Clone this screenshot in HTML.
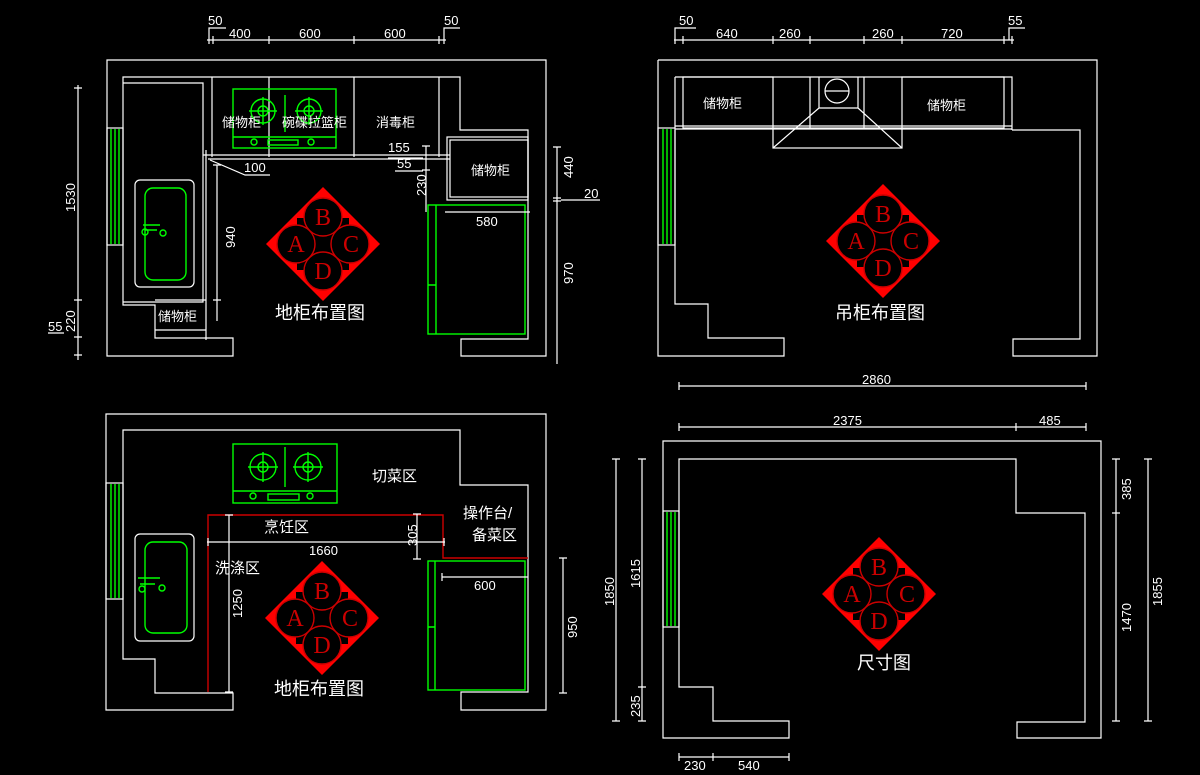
<!DOCTYPE html>
<html><head><meta charset="utf-8"><style>
html,body{margin:0;padding:0;background:#000;}
svg{display:block}
text{font-family:"Liberation Sans","Noto Sans CJK SC",sans-serif;fill:#fff;font-size:13px}
.w{stroke:#fff;stroke-width:1.2;fill:none}
.g{stroke:#0f0;stroke-width:1.4;fill:none}
.r{stroke:#c00;stroke-width:1.4;fill:none}
.t{font-size:18px}
.L{font-family:"Liberation Serif",serif;fill:#c00;font-size:24px;text-anchor:middle}
</style></head><body>
<svg width="1200" height="775" viewBox="0 0 1200 775" xmlns="http://www.w3.org/2000/svg">

<!-- ============ TOP LEFT ============ -->
<path class="w" d="M107 60 H546 V356 H461 V339 H528 V130 H460 V77 H123 V305 H155 V338 H233 V356 H107 Z"/>
<rect class="w" x="107" y="128" width="16" height="117"/>
<path class="g" d="M111 129 V244 M115 129 V244 M119 129 V244"/>
<path class="w" d="M123 83 H203 V302 H123 M155 300 H206 V330 H155 M212 77 V157 M269 77 V157 M354 77 V157 M439 77 V157 M203 155 H450 M208 159 H450 M206 150 V340"/>
<rect class="w" x="447" y="137" width="81" height="63"/>
<rect class="w" x="450" y="140" width="78" height="57"/>
<rect class="w" x="135" y="180" width="59" height="107" rx="5"/>
<rect class="g" x="145" y="188" width="41" height="92" rx="8"/>
<path class="g" d="M143 225 H160 M145 230 H157"/><circle class="g" cx="145" cy="232" r="3"/><circle class="g" cx="163" cy="233" r="3"/>
<rect class="g" x="233" y="89" width="103" height="59"/>
<path class="g" d="M233 137 H336 M285 95 V132"/>
<rect class="g" x="268" y="140" width="30" height="5"/>
<circle class="g" cx="254" cy="142" r="3"/><circle class="g" cx="311" cy="142" r="3"/>
<circle class="g" cx="263" cy="111" r="12"/><circle class="g" cx="263" cy="111" r="5"/><path class="g" d="M249 111 H277 M263 97 V125"/>
<circle class="g" cx="309" cy="111" r="12"/><circle class="g" cx="309" cy="111" r="5"/><path class="g" d="M295 111 H323 M309 97 V125"/>
<rect class="g" x="428" y="205" width="97" height="129"/>
<path class="g" d="M436 205 V334 M428 285 H436"/>
<text x="222" y="127">储物柜</text><text x="282" y="127">碗碟拉篮柜</text><text x="376" y="127">消毒柜</text>
<text x="471" y="175">储物柜</text><text x="158" y="321">储物柜</text>
<path class="w" d="M207 40 H446 M209 36 V44 M213 36 V44 M269 36 V44 M354 36 V44 M439 36 V44 M444 36 V44 M209 40 V28 H226 M444 40 V28 H460"/>
<text x="208" y="25">50</text><text x="229" y="38">400</text><text x="299" y="38">600</text><text x="384" y="38">600</text><text x="444" y="25">50</text>
<path class="w" d="M78 85 V360 M74 88 H82 M74 300 H82 M74 337 H82 M74 355 H82 M48 333 H64"/>
<text transform="translate(75 212) rotate(-90)">1530</text>
<text transform="translate(75 332) rotate(-90)">220</text>
<text x="48" y="331">55</text>
<path class="w" d="M217 165 V321 M213 165 H221 M213 300 H221 M210 160 L245 175 H270"/>
<text transform="translate(235 248) rotate(-90)">940</text><text x="244" y="172">100</text>
<path class="w" d="M426 146 V212 M422 146 H430 M422 170 H430 M388 158 H423 M395 171 H423"/>
<text x="388" y="152">155</text><text x="397" y="168">55</text>
<text transform="translate(426 196) rotate(-90)">230</text>
<path class="w" d="M557 147 V364 M553 147 H561 M553 198 H561 M553 201 H561 M561 200 H600 M445 212 H530"/>
<text transform="translate(573 178) rotate(-90)">440</text><text x="584" y="198">20</text><text transform="translate(573 284) rotate(-90)">970</text>
<text x="476" y="226">580</text>
<g transform="translate(323 244)">
<path d="M0 -57 L57 0 L0 57 L-57 0 Z" fill="#f00"/><rect x="-26" y="-26" width="52" height="52" fill="#000"/>
<circle cx="0" cy="-27" r="19" fill="#000" stroke="#c00" stroke-width="1.4"/><circle cx="27" cy="0" r="19" fill="#000" stroke="#c00" stroke-width="1.4"/>
<circle cx="0" cy="27" r="19" fill="#000" stroke="#c00" stroke-width="1.4"/><circle cx="-27" cy="0" r="19" fill="#000" stroke="#c00" stroke-width="1.4"/>
<text class="L" x="0" y="-19">B</text><text class="L" x="28" y="8">C</text><text class="L" x="0" y="35">D</text><text class="L" x="-27" y="8">A</text></g>
<text class="t" x="275" y="319">地柜布置图</text>

<!-- ============ TOP RIGHT ============ -->
<path class="w" d="M658 60 H1097 V356 H1013 V339 H1080 V130 H1012"/>
<path class="w" d="M675 130 V304 H708 V338 H784 V356 H658 V60"/>
<rect class="w" x="658" y="128" width="17" height="117"/>
<path class="g" d="M663 129 V244 M667 129 V244 M671 129 V244"/>
<path class="w" d="M675 77 H1012 V130 M675 77 V128 M675 126 H1012 M675 129 H1012"/>
<rect class="w" x="683" y="77" width="90" height="51"/><rect class="w" x="902" y="77" width="102" height="51"/>
<rect class="w" x="773" y="128" width="129" height="20"/>
<path class="w" d="M810 77 V128 M864 77 V128 M819 77 V108 H858 V77 M773 148 L819 108 M902 148 L858 108"/>
<circle class="w" cx="837" cy="91" r="12"/><path class="w" d="M825 91 H849"/>
<text x="703" y="108">储物柜</text><text x="927" y="110">储物柜</text>
<path class="w" d="M674 40 H1014 M675 36 V44 M683 36 V44 M773 36 V44 M810 36 V44 M864 36 V44 M902 36 V44 M1004 36 V44 M1012 36 V44 M675 40 V28 H696 M1009 40 V28 H1025"/>
<text x="679" y="25">50</text><text x="716" y="38">640</text><text x="779" y="38">260</text><text x="872" y="38">260</text><text x="941" y="38">720</text><text x="1008" y="25">55</text>
<g transform="translate(883 241)">
<path d="M0 -57 L57 0 L0 57 L-57 0 Z" fill="#f00"/><rect x="-26" y="-26" width="52" height="52" fill="#000"/>
<circle cx="0" cy="-27" r="19" fill="#000" stroke="#c00" stroke-width="1.4"/><circle cx="27" cy="0" r="19" fill="#000" stroke="#c00" stroke-width="1.4"/>
<circle cx="0" cy="27" r="19" fill="#000" stroke="#c00" stroke-width="1.4"/><circle cx="-27" cy="0" r="19" fill="#000" stroke="#c00" stroke-width="1.4"/>
<text class="L" x="0" y="-19">B</text><text class="L" x="28" y="8">C</text><text class="L" x="0" y="35">D</text><text class="L" x="-27" y="8">A</text></g>
<text class="t" x="835" y="319">吊柜布置图</text>

<!-- ============ BOTTOM LEFT ============ -->
<path class="w" d="M106 414 H546 V710 H461 V692 H528 V485 H460 V430 H123 V659 H155 V693 H233 V710 H106 Z"/>
<rect class="w" x="106" y="483" width="17" height="116"/>
<path class="g" d="M111 484 V598 M115 484 V598 M119 484 V598"/>
<rect class="w" x="135" y="534" width="59" height="107" rx="5"/>
<rect class="g" x="145" y="542" width="42" height="91" rx="8"/>
<path class="g" d="M138 578 H160 M140 584 H155"/><circle class="g" cx="142" cy="589" r="3"/><circle class="g" cx="162" cy="588" r="3"/>
<rect class="g" x="233" y="444" width="104" height="59"/>
<path class="g" d="M233 491 H337 M285 447 V487"/><rect class="g" x="268" y="494" width="31" height="6"/>
<circle class="g" cx="253" cy="496" r="3"/><circle class="g" cx="310" cy="496" r="3"/>
<circle class="g" cx="263" cy="467" r="13"/><circle class="g" cx="263" cy="467" r="5"/><path class="g" d="M248 467 H278 M263 452 V482"/>
<circle class="g" cx="308" cy="467" r="13"/><circle class="g" cx="308" cy="467" r="5"/><path class="g" d="M293 467 H323 M308 452 V482"/>
<rect class="g" x="428" y="561" width="97" height="129"/><path class="g" d="M435 561 V690 M428 627 H435"/>
<path class="r" d="M208 692 V515 H443 V558 H528"/>
<path class="w" d="M207 542 H445 M208 538 V546 M444 538 V546 M229 515 V692 M225 515 H233 M225 692 H233 M417 514 V559 M413 514 H421 M413 559 H421 M442 577 H528 M442 573 V581 M563 558 V693 M559 558 H567 M559 693 H567"/>
<text x="309" y="555">1660</text><text transform="translate(417 546) rotate(-90)">305</text>
<text transform="translate(242 618) rotate(-90)">1250</text><text x="474" y="590">600</text>
<text transform="translate(577 638) rotate(-90)">950</text>
<text x="372" y="481" style="font-size:15px">切菜区</text><text x="463" y="518" style="font-size:15px">操作台/</text><text x="472" y="540" style="font-size:15px">备菜区</text>
<text x="264" y="532" style="font-size:15px">烹饪区</text><text x="215" y="573" style="font-size:15px">洗涤区</text>
<g transform="translate(322 618)">
<path d="M0 -57 L57 0 L0 57 L-57 0 Z" fill="#f00"/><rect x="-26" y="-26" width="52" height="52" fill="#000"/>
<circle cx="0" cy="-27" r="19" fill="#000" stroke="#c00" stroke-width="1.4"/><circle cx="27" cy="0" r="19" fill="#000" stroke="#c00" stroke-width="1.4"/>
<circle cx="0" cy="27" r="19" fill="#000" stroke="#c00" stroke-width="1.4"/><circle cx="-27" cy="0" r="19" fill="#000" stroke="#c00" stroke-width="1.4"/>
<text class="L" x="0" y="-19">B</text><text class="L" x="28" y="8">C</text><text class="L" x="0" y="35">D</text><text class="L" x="-27" y="8">A</text></g>
<text class="t" x="274" y="695">地柜布置图</text>

<!-- ============ BOTTOM RIGHT ============ -->
<path class="w" d="M663 441 H1101 V738 H1017 V722 H1085 V513 H1016 V459 H679 V687 H713 V721 H789 V738 H663 Z"/>
<rect class="w" x="663" y="511" width="16" height="116"/>
<path class="g" d="M667 512 V626 M671 512 V626 M675 512 V626"/>
<path class="w" d="M679 386 H1086 M679 382 V390 M1086 382 V390 M679 427 H1086 M679 423 V431 M1016 423 V431 M1086 423 V431"/>
<text x="862" y="384">2860</text><text x="833" y="425">2375</text><text x="1039" y="425">485</text>
<path class="w" d="M616 459 V721 M612 459 H620 M612 721 H620 M642 459 V721 M638 459 H646 M638 687 H646 M638 721 H646 M1116 459 V721 M1112 459 H1120 M1112 513 H1120 M1112 721 H1120 M1148 459 V721 M1144 459 H1152 M1144 721 H1152 M679 757 H789 M679 753 V761 M713 753 V761 M789 753 V761"/>
<text transform="translate(614 606) rotate(-90)">1850</text><text transform="translate(640 588) rotate(-90)">1615</text>
<text transform="translate(640 717) rotate(-90)">235</text>
<text transform="translate(1131 500) rotate(-90)">385</text><text transform="translate(1131 632) rotate(-90)">1470</text>
<text transform="translate(1162 606) rotate(-90)">1855</text>
<text x="684" y="770">230</text><text x="738" y="770">540</text>
<g transform="translate(879 594)">
<path d="M0 -57 L57 0 L0 57 L-57 0 Z" fill="#f00"/><rect x="-26" y="-26" width="52" height="52" fill="#000"/>
<circle cx="0" cy="-27" r="19" fill="#000" stroke="#c00" stroke-width="1.4"/><circle cx="27" cy="0" r="19" fill="#000" stroke="#c00" stroke-width="1.4"/>
<circle cx="0" cy="27" r="19" fill="#000" stroke="#c00" stroke-width="1.4"/><circle cx="-27" cy="0" r="19" fill="#000" stroke="#c00" stroke-width="1.4"/>
<text class="L" x="0" y="-19">B</text><text class="L" x="28" y="8">C</text><text class="L" x="0" y="35">D</text><text class="L" x="-27" y="8">A</text></g>
<text class="t" x="857" y="669">尺寸图</text>
</svg>
</body></html>
